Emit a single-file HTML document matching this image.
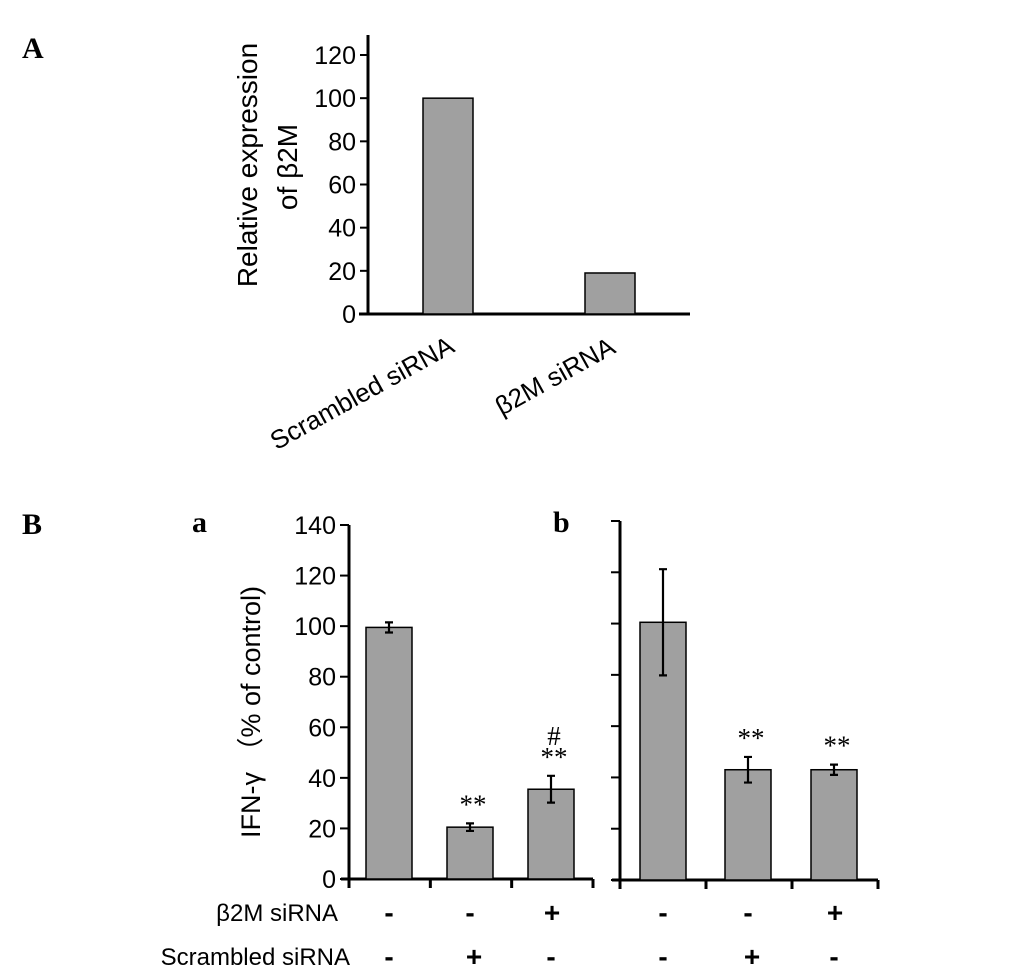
<!DOCTYPE html>
<html><head><meta charset="utf-8">
<style>
html,body{margin:0;padding:0;background:#fff;}
svg{display:block;font-family:"Liberation Sans",sans-serif;}
</style></head>
<body>
<svg id="fig" width="1033" height="972" viewBox="0 0 1033 972" xmlns="http://www.w3.org/2000/svg">
<text x="22" y="58" font-family="Liberation Serif" font-weight="bold" font-size="30">A</text>
<text x="22" y="534" font-family="Liberation Serif" font-weight="bold" font-size="30">B</text>
<text x="192" y="532" font-family="Liberation Serif" font-weight="bold" font-size="30">a</text>
<text x="553" y="532" font-family="Liberation Serif" font-weight="bold" font-size="30">b</text>
<g id="gA"></g>
<g id="gBa"></g>
<g id="gBb"></g>
</svg>
<script>
// Panel A data
const catsA = ["Scrambled  siRNA", "\u03B22M siRNA"];
const valsA = [100, 19];
const ticksA = [0, 20, 40, 60, 80, 100, 120];
// Panel B a data
const valsBa = [99.5, 20.5, 35.5];
const errBa = [2, 1.5, 5.3];
const annotBa = [[], ["**"], ["**", "#"]];
// Panel B b data
const valsBb = [100.5, 43, 43];
const errBb = [20.7, 5, 2];
const annotBb = [[], ["**"], ["**"]];
const ticksB = [0, 20, 40, 60, 80, 100, 120, 140];
const row1Signs = ["-", "-", "+"];
const row2Signs = ["-", "+", "-"];

const NS = "http://www.w3.org/2000/svg";
function mk(parent, tag, attrs, text) {
  const e = document.createElementNS(NS, tag);
  for (const k in attrs) e.setAttribute(k, attrs[k]);
  if (text !== undefined) e.textContent = text;
  parent.appendChild(e);
  return e;
}

// ---- Panel A ----
(function () {
  const g = document.getElementById("gA");
  const x0 = 368, base = 314, pxPer = 259 / 120;
  const y = v => base - v * pxPer;
  let e = mk(g, "line", {x1: x0, y1: 35, x2: x0, y2: base, stroke: "#000", "stroke-width": 3});
  
  
  e = mk(g, "line", {x1: 359, y1: base, x2: 690, y2: base, stroke: "#000", "stroke-width": 3});
  
  
  ticksA.forEach(t => {
    let l = mk(g, "line", {x1: 360, y1: y(t), x2: x0, y2: y(t), stroke: "#000", "stroke-width": 2});
    
    
    let tx = mk(g, "text", {x: 356, y: y(t) + 9, "text-anchor": "end", "font-size": 25}, String(t));
    
    
  });
  const centers = [448, 610];
  const ends = [[456, 351], [617, 352]];
  catsA.forEach((c, i) => {
    let r = mk(g, "rect", {x: centers[i] - 25, y: y(valsA[i]), width: 50, height: base - y(valsA[i]), fill: "#a0a0a0", stroke: "#000", "stroke-width": 1.5});
    
    
    const ax = ends[i][0], ay = ends[i][1], ang = -29;
    let t = mk(g, "text", {x: ax, y: ay, "text-anchor": "end", "font-size": 26, transform: `rotate(${ang} ${ax} ${ay})`}, c);
    
    
  });
  let t1 = mk(g, "text", {x: 0, y: 0, "text-anchor": "middle", "font-size": 28, transform: "translate(257 165) rotate(-90)"}, "Relative expression");
  
  
  let t2 = mk(g, "text", {x: 0, y: 0, "text-anchor": "middle", "font-size": 28, transform: "translate(297 167) rotate(-90)"}, "of \u03B22M");
  
  
})();

// ---- Panel B ----
function drawB(id, x0, top, base, xEnd, centers, vals, errs, annots, labels) {
  const g = document.getElementById(id);
  const pxPer = (base - top) / 140;
  const y = v => base - v * pxPer;
  let e = mk(g, "line", {x1: x0, y1: top, x2: x0, y2: base, stroke: "#000", "stroke-width": 3});
  
  
  e = mk(g, "line", {x1: x0 - 8, y1: base, x2: xEnd, y2: base, stroke: "#000", "stroke-width": 3});
  
  
  ticksB.forEach(t => {
    let l = mk(g, "line", {x1: x0 - 9, y1: y(t), x2: x0, y2: y(t), stroke: "#000", "stroke-width": 2});
    
    
    if (labels) {
      let tx = mk(g, "text", {x: x0 - 13, y: y(t) + 9, "text-anchor": "end", "font-size": 25}, String(t));
      
      
    }
  });
  const step = (xEnd - x0) / 3;
  for (let k = 0; k <= 3; k++) {
    let l = mk(g, "line", {x1: x0 + k * step, y1: base, x2: x0 + k * step, y2: base + 9, stroke: "#000", "stroke-width": 3});
    
    
  }
  vals.forEach((v, i) => {
    const c = centers[i];
    let r = mk(g, "rect", {x: c - 23, y: y(v), width: 46, height: base - y(v), fill: "#a0a0a0", stroke: "#000", "stroke-width": 1.5});
    
    
    const eh = y(v + errs[i]), el = y(v - errs[i]);
    let eb = mk(g, "path", {d: `M${c} ${eh}V${el}M${c - 4} ${eh}H${c + 4}M${c - 4} ${el}H${c + 4}`, stroke: "#000", "stroke-width": 2.2, fill: "none"});
    
    
    annots[i].forEach((a, j) => {
      let at = mk(g, "text", {x: c + 3, y: eh - 10 - j * 21, "text-anchor": "middle", "font-size": 27, "font-family": "Liberation Serif"}, a);
      
      
    });
    let s1 = mk(g, "text", {x: c + (i === 2 ? 1 : 0), y: 922, "text-anchor": "middle", "font-size": 28, "font-weight": "bold"}, row1Signs[i]);
    
    
    let s2 = mk(g, "text", {x: c + (i === 1 ? 4 : 0), y: 966, "text-anchor": "middle", "font-size": 28, "font-weight": "bold"}, row2Signs[i]);
    
    
  });
  if (labels) {
    let t = mk(g, "text", {x: 0, y: 0, "text-anchor": "middle", "font-size": 27, transform: "translate(260 712) rotate(-90)"}, "IFN-\u03B3 \uFF08% of control)");
    
    
    let r1 = mk(g, "text", {x: 338, y: 921, "text-anchor": "end", "font-size": 24}, "\u03B22M siRNA");
    
    
    let r2 = mk(g, "text", {x: 350, y: 965, "text-anchor": "end", "font-size": 24}, "Scrambled siRNA");
    
    
  }
}
drawB("gBa", 349, 525, 879, 593, [389, 470, 551], valsBa, errBa, annotBa, true);
drawB("gBb", 620, 521, 880, 878, [663, 748, 834], valsBb, errBb, annotBb, false);
</script>
</body></html>
